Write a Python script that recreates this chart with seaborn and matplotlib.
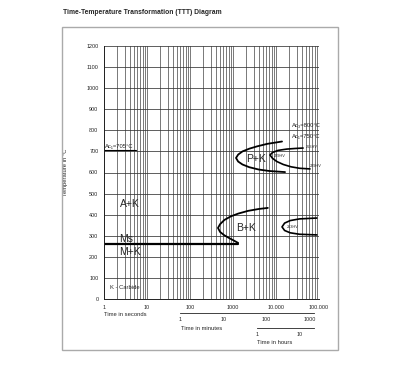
import numpy as np
import pandas as pd
import seaborn as sns
import matplotlib.pyplot as plt
from matplotlib.patches import Rectangle
from matplotlib.ticker import FixedLocator, NullLocator, NullFormatter

# curve points: (time in s, temperature in °C)
pk_outer_t = [13800, 6310, 3631, 2399, 1660, 1318, 1175, 1318, 1660, 2399, 3981, 7079, 16218]
pk_outer_T = [747, 736, 724, 713, 700, 685, 669, 652, 638, 625, 614, 607, 602]
pk_inner_t = [42658, 28184, 17783, 11220, 8318, 7244, 8318, 10471, 14791, 22387, 35481, 61660]
pk_inner_T = [716, 714, 711, 705, 695, 683, 667, 652, 638, 627, 620, 617]
bk_t = [6457, 3981, 2239, 1318, 891, 631, 501, 447, 501, 631, 832, 1072, 1318]
bk_T = [432, 427, 418, 405, 392, 375, 355, 337, 318, 302, 288, 276, 266]
bk2_t = [89125, 35481, 21380, 15849, 13800, 15849, 21380, 35481, 89125]
bk2_T = [384, 380, 372, 360, 342, 325, 314, 307, 304]
ms_t = [1, 1318]
ms_T = [263, 263]
ac1_t = [1, 5.5]
ac1_T = [705, 705]

sec_ticks = [1, 10, 100, 1000, 10000, 100000]
sec_labels = ["1", "10", "100", "1000", "10.000", "100.000"]
min_ticks = [1, 10, 100, 1000]
hour_ticks = [1, 10]
temp_ticks = list(range(0, 1300, 100))

sns.set_style("white")
plt.rcParams["font.family"] = ["Liberation Sans", "DejaVu Sans"]

W, H = 419, 370
fig = plt.figure(figsize=(W / 100, H / 100), dpi=100)

def fx(px):
    return px / W

def fy(py):
    return 1 - py / H

# frame around the diagram
fig.patches.append(Rectangle((fx(62), fy(350)), fx(338) - fx(62), fy(27) - fy(350),
                             transform=fig.transFigure, fill=False,
                             edgecolor="#aaaaaa", lw=1.0))

left, right, top, bottom = 104, 319, 46, 299
ax = fig.add_axes([fx(left), fy(bottom), fx(right) - fx(left), fy(top) - fy(bottom)])

curves = [
    (pk_outer_t, pk_outer_T, 1.3),
    (pk_inner_t, pk_inner_T, 1.2),
    (bk_t, bk_T, 1.3),
    (bk2_t, bk2_T, 1.2),
    (ms_t, ms_T, 1.6),
    (ac1_t, ac1_T, 0.8),
]
for t, T, lw in curves:
    df = pd.DataFrame({"t": t, "T": T})
    sns.lineplot(data=df, x="t", y="T", sort=False, estimator=None, errorbar=None,
                 color="black", lw=lw, ax=ax)

ax.set_xscale("log")
ax.set_xlim(1, 1e5)
ax.set_ylim(0, 1200)
ax.set_yticks(temp_ticks)
ax.set_xticks(sec_ticks)
ax.set_xticklabels(sec_labels)
ax.grid(True, which="both", axis="x", color="#555555", lw=0.55)
ax.grid(True, which="major", axis="y", color="#333333", lw=0.55)
for s in ["top", "right"]:
    ax.spines[s].set_visible(False)
for s in ["left", "bottom"]:
    ax.spines[s].set_color("#222222")
    ax.spines[s].set_linewidth(0.7)
ax.tick_params(axis="both", which="major", labelsize=3.9, length=2.5, width=0.5,
               pad=1.5, colors="#222222")
ax.tick_params(axis="x", which="minor", length=0)
ax.set_xlabel("")
ax.set_ylabel("Temperature in °C", fontsize=4.2)
ax.yaxis.set_label_coords(-(left - 68) / (right - left), 0.5)

# phase labels
ax.text(2.3, 450, "A+K", fontsize=7.5, va="center")
ax.text(2.3, 283, "Ms", fontsize=7.5, va="center")
ax.text(2.3, 222, "M+K", fontsize=7.5, va="center")
ax.text(1200, 335, "B+K", fontsize=7.5, va="center")
ax.text(2000, 665, "P+K", fontsize=7.5, va="center")
ax.text(1.4, 55, "K - Carbide", fontsize=4.2, va="center")
ax.text(1.05, 722, "Ac₁=705°C", fontsize=4.2, va="center")
ax.text(24000, 822, "Ac₃=800°C", fontsize=4.2, va="center")
ax.text(23000, 770, "Ac₁=750°C", fontsize=4.2, va="center")
ax.text(9000, 680, "229HV", fontsize=2.8, va="center")
ax.text(50000, 722, "263HV", fontsize=2.8, va="center")
ax.text(60000, 630, "229HV", fontsize=2.8, va="center")
ax.text(17500, 342, "253HV", fontsize=2.8, va="center")

# secondary time scales
def time_axis(py, div, bound_hi, ticks):
    a = fig.add_axes([fx(left), fy(py), fx(right) - fx(left), 0.0001])
    a.set_xscale("log")
    a.set_xlim(1 / div, 1e5 / div)
    a.patch.set_visible(False)
    for s in ["top", "right", "left"]:
        a.spines[s].set_visible(False)
    a.spines["bottom"].set_bounds(1, bound_hi)
    a.spines["bottom"].set_linewidth(0.6)
    a.spines["bottom"].set_color("#222222")
    a.set_yticks([])
    a.xaxis.set_major_locator(FixedLocator(ticks))
    a.xaxis.set_minor_locator(NullLocator())
    a.xaxis.set_minor_formatter(NullFormatter())
    a.set_xticklabels([str(v) for v in ticks])
    a.tick_params(axis="x", labelsize=3.9, length=2.5, width=0.5, direction="inout",
                  pad=1.5, colors="#222222")
    return a

time_axis(313, 60, 1300, min_ticks)
time_axis(328, 3600, 21, hour_ticks)

fig.text(fx(104), fy(314), "Time in seconds", fontsize=4.2, va="center")
fig.text(fx(181), fy(328), "Time in minutes", fontsize=4.2, va="center")
fig.text(fx(257), fy(342), "Time in hours", fontsize=4.2, va="center")

fig.text(fx(63), fy(13), "Time-Temperature Transformation (TTT) Diagram",
         fontsize=4.9, fontweight="bold", va="center")

fig.savefig("out.png", dpi=100)
